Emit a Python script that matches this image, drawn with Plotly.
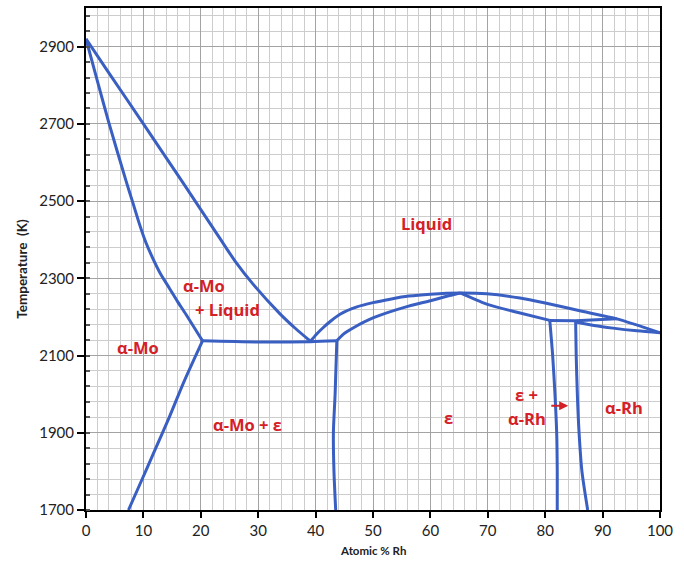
import plotly.graph_objects as go

# ---- data (Atomic % Rh, Temperature K) ----
liq_mo_x = [0, 3.8, 10, 17, 23.3, 26, 29.1, 33.8, 36.5, 39.1]
liq_mo_y = [2920, 2836, 2700, 2545, 2404, 2344, 2285, 2208, 2170, 2137]

sol_mo_x = [0, 2.0, 4.0, 7.0, 8.2, 9.3, 10.4, 11.6, 13.0, 14.5, 15.9, 17.4, 20.3]
sol_mo_y = [2920, 2810, 2702, 2551, 2494, 2441, 2394, 2353, 2311, 2275, 2241, 2207, 2138]

solv_mo_x = [20.3, 17.0, 14.5, 12.0, 9.7, 7.4]
solv_mo_y = [2138, 2030, 1940, 1855, 1777, 1700]

eut_x = [20.3, 30, 39.1, 43.7]
eut_y = [2138, 2135, 2136, 2138]

eps_left_x = [43.7, 43.4, 43.1, 43.2, 43.5]
eps_left_y = [2138, 2000, 1900, 1800, 1700]

liq_eps_x = [39.1, 40.2, 41.3, 42.7, 44.25, 47.2, 50.0, 53.0, 56.2, 60.0, 65.2,
             69.8, 75.6, 80.0, 86.6, 92.5, 100]
liq_eps_y = [2137, 2156, 2172, 2190, 2207, 2226, 2237, 2246, 2254, 2259, 2262,
             2260, 2249, 2236, 2214, 2195, 2159]

sol_eps_l_x = [43.7, 44.8, 46.6, 50.1, 56.2, 60.0, 63.0, 65.2]
sol_eps_l_y = [2138, 2155, 2172, 2198, 2228, 2242, 2254, 2262]

sol_eps_r_x = [65.2, 69.8, 75.1, 80.8]
sol_eps_r_y = [2262, 2233, 2212, 2191]

perit_x = [80.8, 85.3, 92.5]
perit_y = [2191, 2190, 2195]

sol_rh_x = [85.3, 88.5, 91.8, 96.0, 100]
sol_rh_y = [2187, 2178, 2171, 2164, 2159]

eps_right_x = [80.8, 81.3, 81.7, 82.0, 82.1, 82.1]
eps_right_y = [2191, 2100, 2000, 1900, 1800, 1700]

rh_solv_x = [85.3, 85.4, 85.6, 85.9, 86.4, 87.4]
rh_solv_y = [2190, 2100, 2000, 1900, 1800, 1700]

labels = ["Liquid", "α-Mo", "+ Liquid", "α-Mo", "α-Mo + ε", "ε", "ε +", "α-Rh", "α-Rh"]
label_x = [59.4, 20.6, 24.7, 9.1, 28.1, 63.1, 76.8, 76.8, 93.7]
label_y = [2442, 2282, 2220, 2120, 1922, 1940, 1999, 1937, 1965]

x_ticks = [0, 10, 20, 30, 40, 50, 60, 70, 80, 90, 100]
y_ticks = [1700, 1900, 2100, 2300, 2500, 2700, 2900]

LINE = "#3a5fc2"
RED = "#d42027"
FONT = "Lato"
LFONT = "Open Sans"

fig = go.Figure()
curves = [
    (liq_mo_x, liq_mo_y, "spline"),
    (sol_mo_x, sol_mo_y, "spline"),
    (solv_mo_x, solv_mo_y, "spline"),
    (eut_x, eut_y, "spline"),
    (eps_left_x, eps_left_y, "spline"),
    (liq_eps_x, liq_eps_y, "spline"),
    (sol_eps_l_x, sol_eps_l_y, "spline"),
    (sol_eps_r_x, sol_eps_r_y, "spline"),
    (perit_x, perit_y, "linear"),
    (sol_rh_x, sol_rh_y, "spline"),
    (eps_right_x, eps_right_y, "spline"),
    (rh_solv_x, rh_solv_y, "spline"),
]
for cx, cy, shp in curves:
    fig.add_trace(go.Scatter(x=cx, y=cy, mode="lines",
                             line=dict(color=LINE, width=3, shape=shp, smoothing=0.7),
                             hoverinfo="skip", showlegend=False))

for t, lx, ly in zip(labels, label_x, label_y):
    fig.add_annotation(x=lx, y=ly, text="<b>%s</b>" % t, showarrow=False,
                       font=dict(family=LFONT, size=16.5, color=RED))

# small arrow
fig.add_annotation(x=84.0, y=1970, ax=80.8, ay=1970, xref="x", yref="y",
                   axref="x", ayref="y", text="", showarrow=True,
                   arrowhead=2, arrowsize=0.9, arrowwidth=2, arrowcolor=RED)

# axis titles
fig.add_annotation(xref="paper", yref="paper", x=0.5, y=-0.081, yanchor="middle",
                   text="<b>Atomic % Rh</b>", showarrow=False,
                   font=dict(family=FONT, size=11.5, color="#222"))
fig.add_annotation(xref="paper", yref="paper", x=-0.112, y=0.48, xanchor="center",
                   yanchor="middle", textangle=-90,
                   text="<b>Temperature  (K)</b>", showarrow=False,
                   font=dict(family=FONT, size=13.5, color="#222"))

fig.update_xaxes(range=[0, 100], tickvals=x_ticks, ticktext=[str(v) for v in x_ticks],
                 showgrid=True, gridcolor="#a3a3a3", gridwidth=1,
                 showline=True, linecolor="black", linewidth=2, mirror=True,
                 ticks="outside", ticklen=6, tickcolor="black", tickwidth=1.5,
                 tickfont=dict(family=FONT, size=15, color="#222"),
                 zeroline=False,
                 minor=dict(dtick=2, tick0=0, showgrid=True, gridcolor="#cdcdcd", gridwidth=1))
fig.update_yaxes(range=[1700, 3000], tickvals=y_ticks, ticktext=[str(v) for v in y_ticks],
                 showgrid=True, gridcolor="#a3a3a3", gridwidth=1,
                 showline=True, linecolor="black", linewidth=2, mirror=True,
                 ticks="outside", ticklen=7, tickcolor="black", tickwidth=1.5,
                 tickfont=dict(family=FONT, size=15, color="#222"),
                 zeroline=False,
                 minor=dict(dtick=40, tick0=1700, showgrid=True, gridcolor="#cdcdcd", gridwidth=1,
                            ticks="inside", ticklen=4, tickcolor="#555"))

fig.update_layout(width=684, height=566, margin=dict(l=86, r=24, t=6, b=56),
                  plot_bgcolor="white", paper_bgcolor="white", showlegend=False)

fig.write_html("out.html")
